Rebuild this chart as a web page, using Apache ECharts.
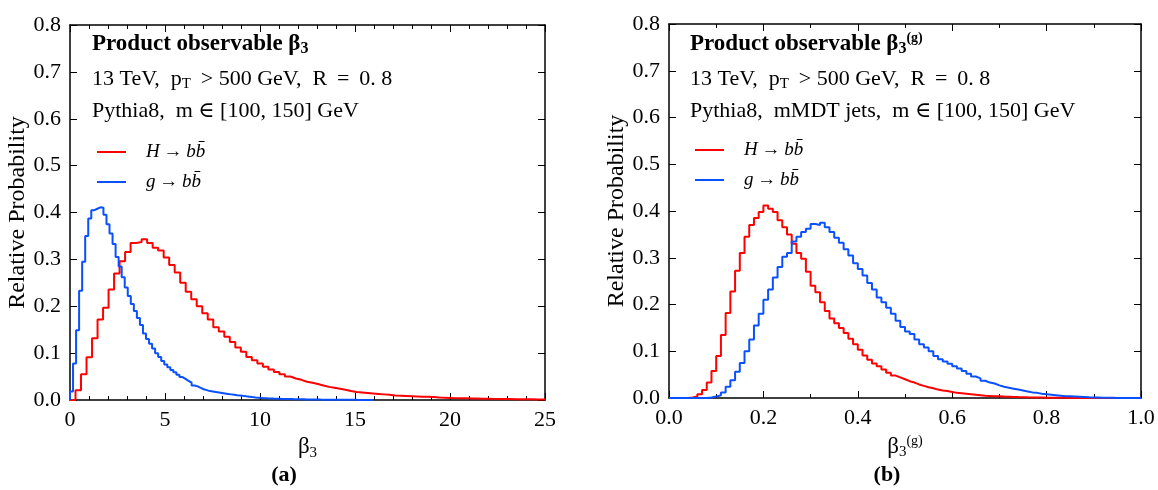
<!DOCTYPE html>
<html><head><meta charset="utf-8">
<script src="https://cdn.jsdelivr.net/npm/echarts@6/dist/echarts.min.js"></script>
<style>html,body{margin:0;padding:0;background:#fff}#c{width:1158px;height:490px}</style>
</head><body><div id="c"></div>
<script>
// ---- data ----
const binWidthRedA = 0.29;   // panel (a), H->bb histogram bin width
const binWidthBlueA = 0.16;  // panel (a), g->bb histogram bin width
const binWidthB = 0.01;      // panel (b) bin width
const seriesNames = ['H\u2009→\u2009bb̄', 'g\u2009→\u2009bb̄'];

const redA = [0, 0.021, 0.055, 0.091, 0.132, 0.172, 0.197, 0.236, 0.27, 0.296, 0.316, 0.335, 0.337, 0.343, 0.335, 0.325, 0.319, 0.304, 0.288, 0.272,
  0.25, 0.231, 0.215, 0.2, 0.185, 0.172, 0.155, 0.146, 0.135, 0.124, 0.112, 0.103, 0.092, 0.085, 0.078, 0.071, 0.065, 0.06, 0.055, 0.05,
  0.046, 0.043, 0.039, 0.037, 0.034, 0.031, 0.028, 0.026, 0.024, 0.022, 0.019, 0.017, 0.016, 0.015, 0.014, 0.013, 0.012, 0.011, 0.0095, 0.009,
  0.0085, 0.008, 0.0075, 0.007, 0.0068, 0.0062, 0.0055, 0.005, 0.0045, 0.004, 0.0038, 0.0035, 0.0032, 0.003, 0.0028, 0.0026, 0.0024, 0.0022, 0.002, 0.0019,
  0.0018, 0.0016, 0.0015, 0.0014, 0.0013, 0.0012, 0.001];

const blueA = [0.018, 0.078, 0.149, 0.233, 0.295, 0.35, 0.387, 0.405, 0.408, 0.411, 0.41, 0.395, 0.375, 0.355, 0.333, 0.305, 0.285, 0.262, 0.24, 0.222,
  0.205, 0.19, 0.175, 0.16, 0.142, 0.13, 0.12, 0.11, 0.1, 0.092, 0.083, 0.076, 0.07, 0.064, 0.059, 0.054, 0.049, 0.045, 0.041, 0.037,
  0.031, 0.029, 0.026, 0.023, 0.021, 0.019, 0.018, 0.017, 0.016, 0.015, 0.014, 0.013, 0.012, 0.011, 0.01, 0.0095, 0.0088, 0.0078, 0.007, 0.0062,
  0.0055, 0.005, 0.0045, 0.004, 0.0036, 0.0033, 0.003, 0.0028, 0.0026, 0.0024, 0.0022, 0.002, 0.0019, 0.0018, 0.0016, 0.0015, 0.0014, 0.0013, 0.0012, 0.0011,
  0.001, 0.0009, 0.0008, 0.0008, 0.0007, 0.0006, 0.0006, 0.0005, 0.0005, 0.0004, 0.0004, 0.0003, 0.0003, 0.0003, 0.0002, 0.0002, 0.0002, 0.0001, 0.0001, 0.0001];

const redB = [0, 0, 0, 0, 0.001, 0.003, 0.008, 0.017, 0.033, 0.058,
  0.09, 0.135, 0.182, 0.228, 0.272, 0.31, 0.345, 0.37, 0.385, 0.398,
  0.412, 0.405, 0.398, 0.38, 0.365, 0.35, 0.33, 0.31, 0.298, 0.27,
  0.24, 0.226, 0.205, 0.186, 0.17, 0.16, 0.15, 0.139, 0.127, 0.115,
  0.103, 0.091, 0.082, 0.074, 0.068, 0.061, 0.054, 0.048, 0.044, 0.04,
  0.036, 0.033, 0.029, 0.026, 0.023, 0.021, 0.018, 0.016, 0.015, 0.013,
  0.011, 0.01, 0.009, 0.008, 0.007, 0.006, 0.005, 0.0045, 0.004, 0.0035,
  0.003, 0.0027, 0.0023, 0.002, 0.0018, 0.0015, 0.0013, 0.0011, 0.001, 0.0008,
  0.0006, 0.0005, 0.0004, 0.0003, 0.0002, 0, 0, 0, 0, 0,
  0, 0, 0, 0, 0, 0, 0, 0, 0, 0];

const blueB = [0, 0, 0, 0, 0, 0, 0, 0, 0.001, 0.003,
  0.006, 0.012, 0.024, 0.038, 0.056, 0.075, 0.1, 0.125, 0.155, 0.18,
  0.21, 0.232, 0.258, 0.28, 0.302, 0.31, 0.335, 0.345, 0.355, 0.362,
  0.372, 0.37, 0.375, 0.365, 0.355, 0.343, 0.332, 0.318, 0.305, 0.288,
  0.276, 0.262, 0.246, 0.232, 0.215, 0.205, 0.193, 0.18, 0.165, 0.152,
  0.142, 0.137, 0.125, 0.115, 0.108, 0.1, 0.09, 0.083, 0.078, 0.073,
  0.068, 0.063, 0.058, 0.052, 0.046, 0.042, 0.037, 0.033, 0.031, 0.027,
  0.024, 0.022, 0.02, 0.018, 0.016, 0.014, 0.012, 0.011, 0.009, 0.008,
  0.007, 0.006, 0.005, 0.004, 0.0035, 0.003, 0.0025, 0.002, 0.0015, 0.0012,
  0.001, 0.0008, 0.0006, 0.0004, 0.0002, 0, 0, 0, 0, 0];

// ---- helpers ----
function stepData(values, width) {
  const pts = [[0, 0]];
  values.forEach((v, i) => pts.push([i * width, v]));
  const end = values.length * width;
  pts.push([end, values[values.length - 1]]);
  pts.push([end, 0]);
  return pts;
}
const SERIF = '"Liberation Serif", "DejaVu Serif", serif';
const RED = '#ff0000', BLUE = '#0a50ff';
const axisLine = { show: true, onZero: false, lineStyle: { color: '#000', width: 1.5 } };
const tick = { show: true, inside: true, length: 7, lineStyle: { color: '#000', width: 1 } };
const label = { color: '#000', fontFamily: SERIF, fontSize: 22, margin: 9 };

function xAx(grid, pos, min, max, interval, minorSplit, showLabel, fmt, name, rich) {
  return {
    type: 'value', gridIndex: grid, position: pos, min, max, interval,
    axisLine, axisTick: tick,
    minorTick: { show: true, splitNumber: minorSplit, length: 4, lineStyle: { color: '#000', width: 1 } },
    splitLine: { show: false },
    axisLabel: Object.assign({ show: showLabel, formatter: fmt }, label),
    name: name || '', nameLocation: 'middle', nameGap: 27,
    nameTextStyle: { color: '#000', fontFamily: SERIF, fontSize: 22, rich: rich }
  };
}
function yAx(grid, pos, showLabel, name) {
  return {
    type: 'value', gridIndex: grid, position: pos, min: 0, max: 0.8, interval: 0.1,
    axisLine, axisTick: tick, splitLine: { show: false },
    axisLabel: Object.assign({ show: showLabel, formatter: v => v.toFixed(1) }, label),
    name: name || '', nameLocation: 'middle', nameGap: 37,
    nameTextStyle: { color: '#000', fontFamily: SERIF, fontSize: 24 }
  };
}
const subRich = {
  m: { fontFamily: SERIF, fontSize: 23, lineHeight: 26, color: '#000' },
  s: { fontFamily: SERIF, fontSize: 15, lineHeight: 15, verticalAlign: 'bottom', color: '#000' },
  p: { fontFamily: SERIF, fontSize: 14, lineHeight: 14, verticalAlign: 'top', color: '#000' }
};
const titleRich = {
  b: { fontFamily: SERIF, fontWeight: 'bold', fontSize: 23, lineHeight: 26, color: '#000' },
  bs: { fontFamily: SERIF, fontWeight: 'bold', fontSize: 16, lineHeight: 15, verticalAlign: 'bottom', color: '#000' },
  bp: { fontFamily: SERIF, fontWeight: 'bold', fontSize: 14, lineHeight: 14, verticalAlign: 'top', color: '#000' },
  n: { fontFamily: SERIF, fontSize: 22, lineHeight: 26, color: '#000' },
  s: { fontFamily: SERIF, fontSize: 15, lineHeight: 15, verticalAlign: 'bottom', color: '#000' }
};
function txt(x, y, text) {
  return { type: 'text', x, y, silent: true, style: { text, rich: titleRich, align: 'left', verticalAlign: 'middle' } };
}
function legend(left, top) {
  return {
    left, top, orient: 'vertical', icon: 'rect', itemWidth: 29, itemHeight: 2, itemGap: 10,
    selectedMode: false, data: seriesNames,
    textStyle: { color: '#000', fontFamily: SERIF, fontStyle: 'italic', fontSize: 19, lineHeight: 20, padding: [0, 0, 0, 15] }
  };
}
function lineSeries(name, data, xi, yi, color) {
  return {
    name, type: 'line', step: 'end', data, xAxisIndex: xi, yAxisIndex: yi,
    symbol: 'none', showSymbol: false, clip: true,
    lineStyle: { color, width: 2 }, itemStyle: { color }
  };
}

const line2 = '{n|13 TeV,  p}{s|T}{n| \u2009> 500 GeV,  R\u2009 = \u20090. 8}';

const option = {
  backgroundColor: '#fff',
  animation: false,
  grid: [
    { left: 70, right: 613, top: 25, bottom: 90 },
    { left: 669, right: 17, top: 24, bottom: 92 }
  ],
  xAxis: [
    xAx(0, 'bottom', 0, 25, 5, 5, true, v => String(v), '{m|β}{s|3}', subRich),
    xAx(0, 'top', 0, 25, 5, 5, false),
    xAx(1, 'bottom', 0, 1, 0.2, 2, true, v => v.toFixed(1), '{m|β}{s|3}{p|(g)}', subRich),
    xAx(1, 'top', 0, 1, 0.2, 2, false)
  ],
  yAxis: [
    yAx(0, 'left', true, 'Relative Probability'),
    yAx(0, 'right', false),
    yAx(1, 'left', true, 'Relative Probability'),
    yAx(1, 'right', false)
  ],
  legend: [legend(92, 137), legend(690, 135)],
  series: [
    lineSeries(seriesNames[0], stepData(redA, binWidthRedA), 0, 0, RED),
    lineSeries(seriesNames[1], stepData(blueA, binWidthBlueA), 0, 0, BLUE),
    lineSeries(seriesNames[0], stepData(redB, binWidthB), 2, 2, RED),
    lineSeries(seriesNames[1], stepData(blueB, binWidthB), 2, 2, BLUE)
  ],
  graphic: [
    txt(92, 44, '{b|Product observable β}{bs|3}'),
    txt(92, 79, line2),
    txt(92, 111, '{n|Pythia8,  m ∈ [100, 150] GeV}'),
    txt(690, 44, '{b|Product observable β}{bs|3}{bp|(g)}'),
    txt(690, 79, line2),
    txt(690, 111, '{n|Pythia8,  mMDT jets,  m ∈ [100, 150] GeV}'),
    { type: 'text', x: 284, y: 475, silent: true, style: { text: '(a)', fontFamily: SERIF, fontWeight: 'bold', fontSize: 22, fill: '#000', align: 'center', verticalAlign: 'middle' } },
    { type: 'text', x: 887, y: 475, silent: true, style: { text: '(b)', fontFamily: SERIF, fontWeight: 'bold', fontSize: 22, fill: '#000', align: 'center', verticalAlign: 'middle' } }
  ]
};
echarts.init(document.getElementById('c'), null, { renderer: 'canvas' }).setOption(option);
</script>
</body></html>
